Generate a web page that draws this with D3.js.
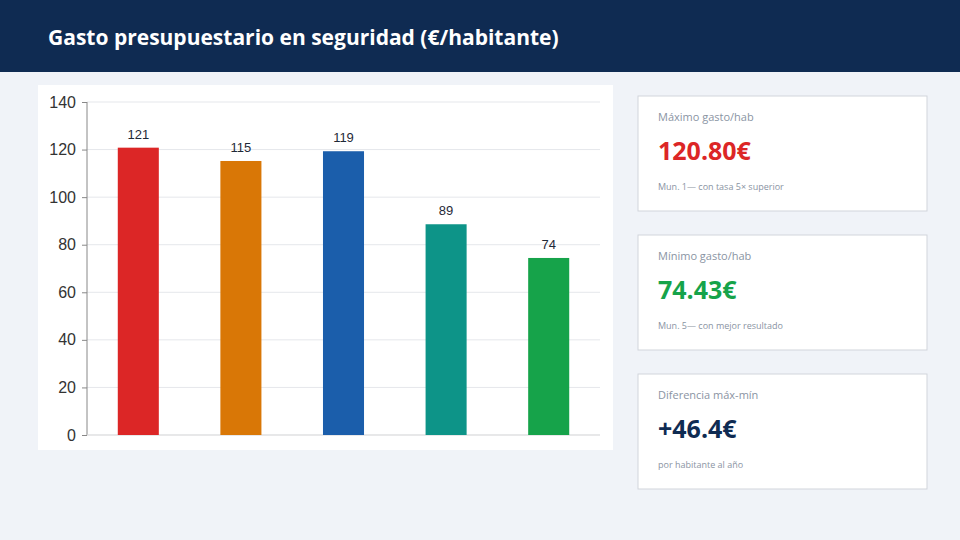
<!DOCTYPE html>
<html lang="es">
<head>
<meta charset="UTF-8">
<script src="https://d3js.org/d3.v7.min.js"></script>
<style>
body { margin:0; background:#f0f3f8; font-family:"Open Sans", sans-serif; }
</style>
</head>
<body>
<svg id="slide" width="960" height="540"></svg>
<script>
// Datos
const categories = ["Mun. 1", "Mun. 2", "Mun. 3", "Mun. 4", "Mun. 5"];
const values = [120.8, 115.2, 119.3, 88.6, 74.43];
const labels = ["121", "115", "119", "89", "74"];
const colors = ["#dc2626", "#d97706", "#1b5eab", "#0d9488", "#16a34a"];
const yTicks = [0, 20, 40, 60, 80, 100, 120, 140];
const cards = [
    {title: "Máximo gasto/hab", value: "120.80€", color: "#dc2626", note: "Mun. 1— con tasa 5× superior"},
    {title: "Mínimo gasto/hab", value: "74.43€", color: "#16a34a", note: "Mun. 5— con mejor resultado"},
    {title: "Diferencia máx-mín", value: "+46.4€", color: "#0f2b52", note: "por habitante al año"}
];

const svg = d3.select("#slide");
svg.append("rect").attr("width", 960).attr("height", 540).attr("fill", "#f0f3f8");
svg.append("rect").attr("width", 960).attr("height", 72).attr("fill", "#0f2b52");
svg.append("text").attr("x", 48).attr("y", 45).attr("fill", "white")
    .attr("font-size", 21).attr("font-weight", 700).text("Gasto presupuestario en seguridad (€/habitante)");

// Panel del gráfico
svg.append("rect").attr("x", 38).attr("y", 85).attr("width", 575).attr("height", 365).attr("fill", "white");

const x = d3.scaleBand().domain(categories).range([87, 600]).paddingInner(0.6).paddingOuter(0.3);
const y = d3.scaleLinear().domain([0, 140]).range([435, 102]);

const g = svg.append("g");
g.selectAll("line.grid").data(yTicks).enter().append("line")
    .attr("x1", 87).attr("x2", 600).attr("y1", d => y(d)).attr("y2", d => y(d))
    .attr("stroke", "#e5e7eb");

const yAxis = g.append("g").attr("transform", "translate(87,0)")
    .call(d3.axisLeft(y).tickValues(yTicks).tickSize(5).tickPadding(6));
yAxis.selectAll("text").attr("font-size", 16).attr("fill", "#333").attr("font-family", "Liberation Sans, Arial");
yAxis.selectAll("line, path").attr("stroke", "#888");
yAxis.select("path").attr("d", "M0," + y(140) + "V" + y(0));

g.append("line").attr("x1", 87).attr("x2", 600).attr("y1", y(0)).attr("y2", y(0)).attr("stroke", "#ddd");

g.selectAll("rect.bar").data(values).enter().append("rect")
    .attr("x", (d, i) => x(categories[i])).attr("width", x.bandwidth())
    .attr("y", d => y(d)).attr("height", d => y(0) - y(d))
    .attr("fill", (d, i) => colors[i]);

g.selectAll("text.lbl").data(values).enter().append("text")
    .attr("x", (d, i) => x(categories[i]) + x.bandwidth() / 2).attr("y", d => y(d) - 9)
    .attr("text-anchor", "middle").attr("font-size", 13).attr("fill", "#1f2937")
    .attr("font-family", "Liberation Sans, Arial").text((d, i) => labels[i]);

// Tarjetas
const cardY = [96, 235, 374];
cards.forEach((c, i) => {
    const cg = svg.append("g").attr("transform", `translate(638,${cardY[i]})`);
    cg.append("rect").attr("width", 289).attr("height", 115).attr("fill", "white").attr("stroke", "#d1d5db");
    cg.append("text").attr("x", 20).attr("y", 25).attr("font-size", 11).attr("fill", "#8a94a3").text(c.title);
    cg.append("text").attr("x", 20).attr("y", 64).attr("font-size", 25).attr("font-weight", 700).attr("fill", c.color).text(c.value);
    cg.append("text").attr("x", 20).attr("y", 94).attr("font-size", 9).attr("fill", "#8a94a3").text(c.note);
});
</script>
</body>
</html>
